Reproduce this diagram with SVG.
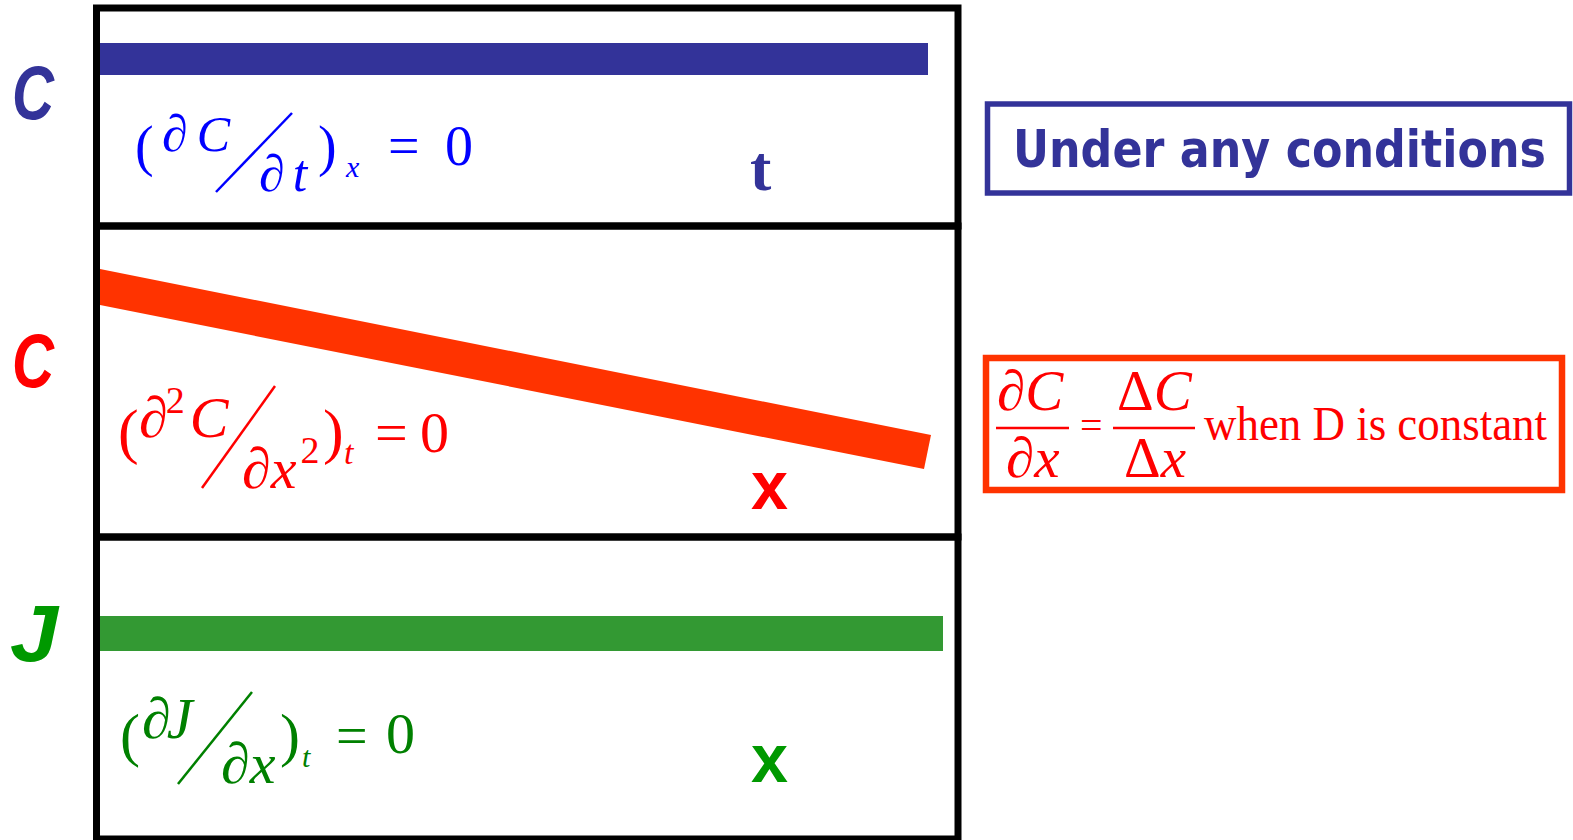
<svg xmlns="http://www.w3.org/2000/svg" width="1573" height="840" viewBox="0 0 1573 840">
<style>
.frame{fill:none;stroke:#000;stroke-width:7}
.m{font-family:"Liberation Serif","Times New Roman",serif}
.i{font-style:italic}
.big{font-family:"Liberation Sans",Arial,sans-serif;font-weight:bold;font-style:italic}
.mark{font-family:"Liberation Sans",Arial,sans-serif;font-weight:bold}
.blue{fill:#0000FF}
.red{fill:#FF0000}
.green{fill:#008000}
.sl{stroke-width:2.5;fill:none}
</style>
<rect width="1573" height="840" fill="#fff"/>

<g id="frame">
<rect class="frame" x="96.5" y="8" width="861.5" height="218"/>
<rect class="frame" x="96.5" y="226" width="861.5" height="311"/>
<rect class="frame" x="96.5" y="537" width="861.5" height="302"/>
</g>

<g id="bars">
<rect x="100" y="43" width="828" height="32" fill="#333399"/>
<polygon points="100,269 931,435 924,469 100,305" fill="#FF3300"/>
<rect x="100" y="616" width="843" height="35" fill="#339933"/>
</g>

<g id="labels-left">
<text class="big" x="12" y="119" font-size="76" fill="#333399" textLength="42" lengthAdjust="spacingAndGlyphs">C</text>
<text class="big" x="12" y="387" font-size="76" fill="#FF0000" textLength="42" lengthAdjust="spacingAndGlyphs">C</text>
<text class="big" x="10" y="661" font-size="80" fill="#009900" textLength="48" lengthAdjust="spacingAndGlyphs">J</text>
</g>

<g id="eq1" class="m blue">
<text x="135" y="165" font-size="56">(</text>
<text x="162" y="151" font-size="52">∂<tspan class="i" dx="9" font-size="50">C</tspan></text>
<line class="sl" x1="216" y1="192" x2="292" y2="113" stroke="#0000FF"/>
<text x="259" y="191" font-size="52">∂<tspan class="i" dx="8">t</tspan></text>
<text x="318" y="165" font-size="56">)</text>
<text class="i" x="346" y="177" font-size="30">x</text>
<text x="388" y="165" font-size="56">=</text>
<text x="445" y="165" font-size="56">0</text>
</g>
<text id="t-label" class="m" x="750" y="190" font-size="64" font-weight="bold" fill="#333399">t</text>

<g id="eq2" class="m red">
<text x="118" y="452" font-size="62">(</text>
<text x="139" y="437" font-size="58">∂<tspan font-size="38" dy="-24" dx="-2">2</tspan><tspan class="i" font-size="58" dy="24" dx="5">C</tspan></text>
<line class="sl" x1="202" y1="488" x2="275" y2="386" stroke="#FF0000"/>
<text x="242" y="488" font-size="58">∂<tspan class="i">x</tspan><tspan font-size="38" dy="-25" dx="4">2</tspan></text>
<text x="323" y="452" font-size="62">)</text>
<text class="i" x="344" y="464" font-size="34">t</text>
<text x="375" y="452" font-size="58">=</text>
<text x="420" y="452" font-size="58">0</text>
</g>
<text id="x-red" class="mark" x="751" y="509" font-size="68" fill="#FF0000" textLength="37" lengthAdjust="spacingAndGlyphs">x</text>

<g id="eq3" class="m green">
<text x="120" y="755" font-size="60">(</text>
<text x="142" y="738" font-size="58">∂<tspan class="i" dx="-4">J</tspan></text>
<line class="sl" x1="178" y1="784" x2="252" y2="692" stroke="#008000"/>
<text x="221" y="783" font-size="58">∂<tspan class="i">x</tspan></text>
<text x="280" y="755" font-size="60">)</text>
<text class="i" x="302" y="767" font-size="30">t</text>
<text x="336" y="755" font-size="56">=</text>
<text x="386" y="753" font-size="58">0</text>
</g>
<text id="x-green" class="mark" x="751" y="782" font-size="68" fill="#009900" textLength="37" lengthAdjust="spacingAndGlyphs">x</text>

<g id="box-blue">
<rect x="987.5" y="104" width="582" height="89" fill="none" stroke="#333399" stroke-width="5.5"/>
<text x="1013" y="167" font-family="'Comic Sans MS','DejaVu Sans',sans-serif" font-weight="bold" font-size="52" fill="#333399" textLength="533" lengthAdjust="spacingAndGlyphs">Under any conditions</text>
</g>

<g id="box-red" class="m red">
<rect x="986" y="358" width="576" height="132" fill="none" stroke="#FF3300" stroke-width="6.5"/>
<text x="997" y="410" font-size="57">∂<tspan class="i">C</tspan></text>
<line x1="996" y1="428" x2="1069" y2="428" stroke="#FF0000" stroke-width="2.5"/>
<text x="1006" y="477" font-size="57">∂<tspan class="i">x</tspan></text>
<text x="1080" y="439" font-size="40">=</text>
<line x1="1113" y1="428" x2="1195" y2="428" stroke="#FF0000" stroke-width="2.5"/>
<text x="1117" y="410" font-size="57">Δ<tspan class="i">C</tspan></text>
<text x="1124" y="477" font-size="57">Δ<tspan class="i">x</tspan></text>
<text x="1204" y="440" font-size="48" textLength="343" lengthAdjust="spacingAndGlyphs">when D is constant</text>
</g>
</svg>
